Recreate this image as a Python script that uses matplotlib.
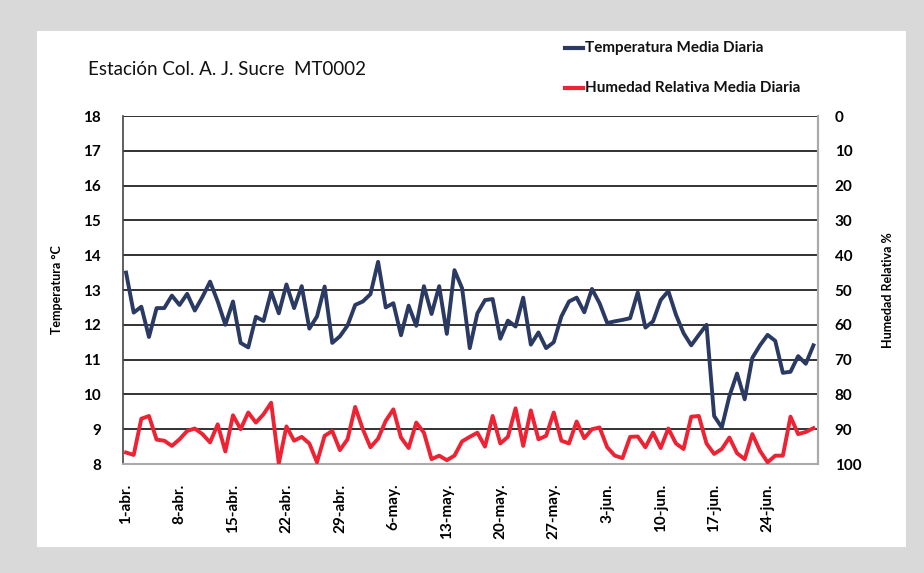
import matplotlib
matplotlib.use("Agg")
import matplotlib.pyplot as plt
from matplotlib.patches import Rectangle
from matplotlib.lines import Line2D
import numpy as np

plt.rcParams['font.family'] = ['Lato', 'DejaVu Sans']

# 1-abr to 30-jun (91 days)
temperatura = [13.5, 12.35, 12.52, 11.65, 12.48, 12.48, 12.84, 12.57, 12.89, 12.41,
               12.8, 13.24, 12.67, 12.0, 12.67, 11.48, 11.35, 12.23, 12.11, 12.95,
               12.33, 13.16, 12.48, 13.11, 11.89, 12.24, 13.1, 11.48, 11.67, 11.98,
               12.57, 12.67, 12.88, 13.81, 12.5, 12.62, 11.7, 12.55, 11.97, 13.11,
               12.31, 13.11, 11.74, 13.57, 13.05, 11.33, 12.33, 12.71, 12.74, 11.6,
               12.12, 11.95, 12.78, 11.43, 11.78, 11.33, 11.5, 12.24, 12.67, 12.78,
               12.36, 13.03, 12.62, 12.05, 12.1, 12.14, 12.19, 12.93, 11.92, 12.1,
               12.71, 12.97, 12.29, 11.76, 11.41, 11.71, 12.0, 9.38, 9.05, 9.95,
               10.6, 9.86, 11.05, 11.41, 11.71, 11.54, 10.62, 10.65, 11.1, 10.88,
               11.41]
humedad = [96.7, 97.4, 87.0, 86.2, 93.0, 93.3, 94.8, 92.9, 90.5, 89.8,
           91.4, 93.8, 88.6, 96.4, 86.0, 90.0, 85.2, 88.1, 85.7, 82.4,
           99.8, 89.2, 93.3, 92.2, 94.1, 99.5, 91.9, 90.5, 96.0, 92.9,
           83.6, 90.0, 95.2, 92.7, 87.6, 84.3, 92.4, 95.4, 88.1, 91.0,
           98.6, 97.6, 98.9, 97.6, 93.5, 92.2, 91.0, 95.0, 86.2, 94.1,
           92.2, 84.0, 94.8, 84.6, 92.9, 91.9, 85.2, 93.3, 94.1, 87.8,
           92.6, 90.0, 89.5, 95.2, 97.6, 98.3, 92.2, 92.1, 95.2, 91.0,
           95.4, 89.8, 94.1, 95.7, 86.4, 86.2, 94.1, 97.1, 95.7, 92.4,
           96.9, 98.6, 91.4, 96.2, 99.5, 97.6, 97.6, 86.4, 91.4, 90.8,
           89.7]
tick_labels = ['1-abr.', '8-abr.', '15-abr.', '22-abr.', '29-abr.', '6-may.', '13-may.',
               '20-may.', '27-may.', '3-jun.', '10-jun.', '17-jun.', '24-jun.']
temp_ticks = [8, 9, 10, 11, 12, 13, 14, 15, 16, 17, 18]
hum_ticks = [0, 10, 20, 30, 40, 50, 60, 70, 80, 90, 100]

dias = np.arange(len(temperatura))
tick_pos = np.arange(0, len(temperatura), 7)[:len(tick_labels)]

c_temp = '#2B3A63'
c_hum = '#EE2233'

fig = plt.figure(figsize=(9.24, 5.73), dpi=100, facecolor='#D9D9D9')
panel = Rectangle((37/924, 1-547/573), (906-37)/924, (547-31)/573,
                  transform=fig.transFigure, facecolor='white', edgecolor='none',
                  zorder=-10)
fig.patches.append(panel)

ax = fig.add_axes([123/924, 1-464/573, (818-123)/924, (464-116)/573])
ax.set_facecolor('none')
ax.plot(dias, temperatura, color=c_temp, lw=2.8, solid_joinstyle='round', zorder=3)
ax.set_ylim(8, 18)
ax.set_xlim(-0.4, 90.6)
ax.set_yticks(temp_ticks)
ax.set_yticklabels([str(t) for t in temp_ticks], fontsize=11, fontweight='bold')
ax.yaxis.grid(True, color='#222222', lw=1.3)
ax.set_axisbelow(True)
ax.set_xticks(tick_pos)
ax.set_xticklabels(tick_labels, rotation=90, fontsize=11, fontweight='bold')
ax.tick_params(axis='x', length=0, pad=14)
ax.tick_params(axis='y', length=0, pad=16)
ax.set_ylabel('Temperatura °C', fontsize=9, fontweight='bold', labelpad=14)
ax.spines['top'].set_visible(False)
ax.spines['left'].set_color('#444444')
ax.spines['left'].set_linewidth(1.2)
ax.spines['bottom'].set_color('#AAAAAA')
ax.spines['bottom'].set_linewidth(1.5)
ax.spines['right'].set_color('#AAAAAA')
ax.spines['right'].set_linewidth(1.5)

ax2 = ax.twinx()
ax2.plot(dias, humedad, color=c_hum, lw=2.8, solid_joinstyle='round', zorder=3)
ax2.set_ylim(100, 0)
ax2.set_yticks(hum_ticks)
ax2.set_yticklabels([str(h) for h in hum_ticks], fontsize=11, fontweight='bold')
ax2.tick_params(axis='y', length=0, pad=12)
ax2.set_ylabel('Humedad Relativa %', fontsize=9, fontweight='bold', labelpad=15, rotation=90)
ax2.spines['top'].set_visible(False)
ax2.spines['right'].set_color('#AAAAAA')
ax2.spines['right'].set_linewidth(1.5)
ax2.spines['left'].set_visible(False)
ax2.spines['bottom'].set_visible(False)

fig.text(88/924, 1-70/573, 'Estación Col. A. J. Sucre  MT0002', fontsize=13.5,
         va='center', ha='left', color='#111111')

for ypix, col, lab in [(48, c_temp, 'Temperatura Media Diaria'),
                       (88, c_hum, 'Humedad Relativa Media Diaria')]:
    yf = 1 - ypix/573
    fig.add_artist(Line2D([565/924, 583/924], [yf, yf], color=col, lw=3,
                          transform=fig.transFigure))
    fig.text(585/924, yf, lab, fontsize=11, fontweight='bold', va='center', ha='left',
             color='#111111')

fig.savefig('out.png', dpi=100, facecolor=fig.get_facecolor())
